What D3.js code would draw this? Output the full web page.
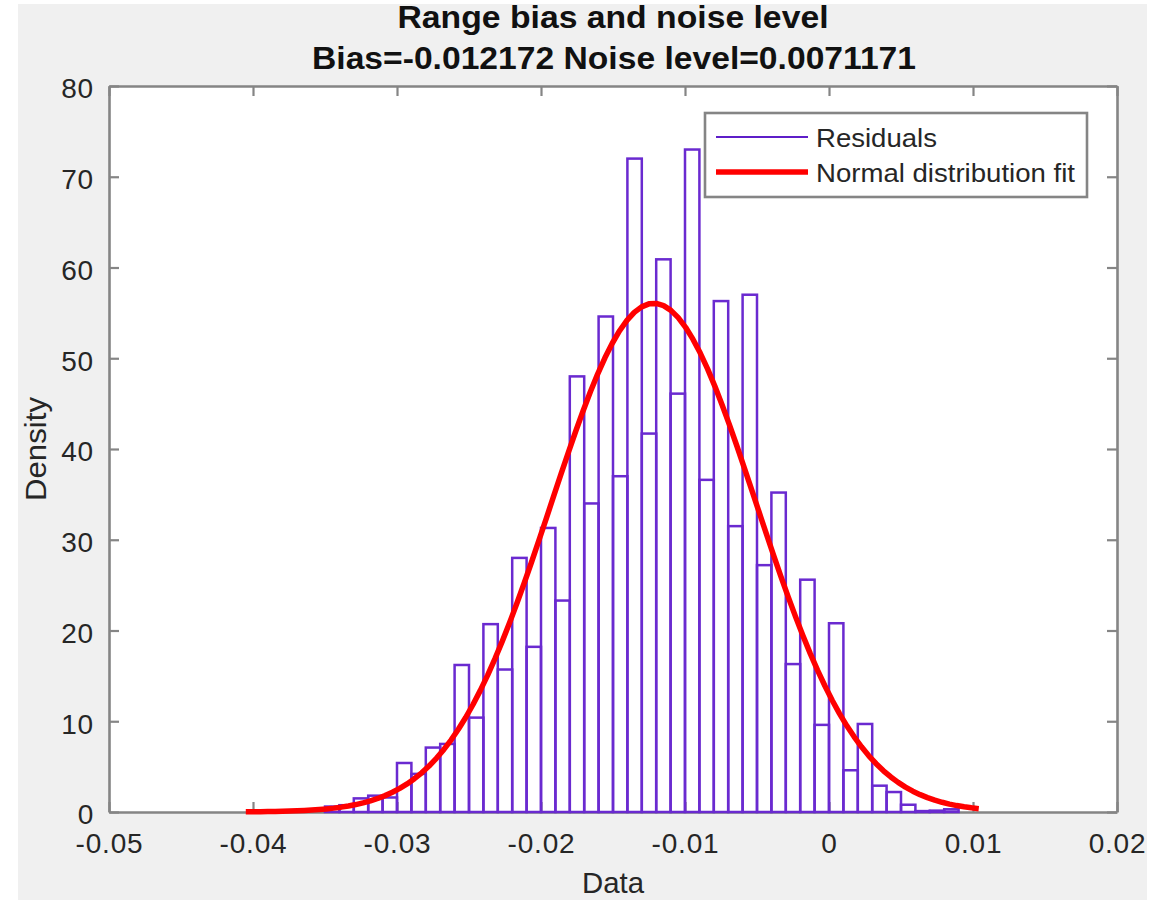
<!DOCTYPE html>
<html>
<head>
<meta charset="utf-8">
<script src="https://cdn.jsdelivr.net/npm/d3@7"></script>
<style>
  body { margin: 0; background: #ffffff; }
  svg { display: block; }
  text { font-family: "Liberation Sans", Arial, Helvetica, sans-serif; }
</style>
</head>
<body>
<svg id="chart" width="1170" height="900"></svg>
<script>
// ---- data ----
const titleLines = ["Range bias and noise level", "Bias=-0.012172 Noise level=0.0071171"];
const bias = -0.012172;          // fitted mean
const noiseLevel = 0.0071171;    // fitted standard deviation
const binStart = -0.035;         // left edge of the first histogram bin
const binWidth = 0.001;
const residualDensity = [
  0.6, 0.75, 1.5, 1.8, 1.6, 5.4, 4.2, 7.1, 7.5, 16.2,
  10.4, 20.7, 15.7, 28.0, 18.2, 31.3, 23.3, 48.0, 34.0, 54.6,
  37.0, 72.0, 41.7, 60.9, 46.1, 73.0, 36.6, 56.3, 31.5, 57.0,
  27.2, 35.2, 16.3, 25.6, 9.6, 20.8, 4.6, 9.7, 2.9, 2.2,
  0.8, 0.1, 0.15, 0.3
];
const fitRange = [-0.0405, 0.0104];
const xTicks = [-0.05, -0.04, -0.03, -0.02, -0.01, 0, 0.01, 0.02];
const xTickLabels = ["-0.05", "-0.04", "-0.03", "-0.02", "-0.01", "0", "0.01", "0.02"];
const yTicks = [0, 10, 20, 30, 40, 50, 60, 70, 80];
const yTickLabels = ["0", "10", "20", "30", "40", "50", "60", "70", "80"];
const legendLabels = ["Residuals", "Normal distribution fit"];
const axisLabels = { x: "Data", y: "Density" };

// ---- layout ----
const plot = { left: 109, right: 1117, top: 86, bottom: 812 };
const frameColor = "#858585";
const textColor = "#262626";
const barColor = "#6a2ad0";
const fitColor = "#ff0000";

const svg = d3.select("#chart");

// figure background
svg.append("rect").attr("x", 18).attr("y", 4).attr("width", 1129).attr("height", 896)
  .attr("fill", "#f0f0f0");

const x = d3.scaleLinear().domain([-0.05, 0.02]).range([plot.left, plot.right]);
const y = d3.scaleLinear().domain([0, 80]).range([plot.bottom, plot.top]);

// plot area
svg.append("rect")
  .attr("x", plot.left).attr("y", plot.top)
  .attr("width", plot.right - plot.left).attr("height", plot.bottom - plot.top)
  .attr("fill", "#ffffff");

// axes with inward ticks on all four sides
const tickLen = 10;
function styleAxis(g) {
  g.selectAll(".domain").attr("stroke", frameColor).attr("stroke-width", 2.6);
  g.selectAll(".tick line").attr("stroke", frameColor).attr("stroke-width", 2.2);
  g.selectAll(".tick text")
    .attr("fill", textColor)
    .style("font-size", "28px")
    .style("letter-spacing", "0.8px");
}

svg.append("g").attr("transform", `translate(0,${plot.bottom})`)
  .call(d3.axisBottom(x).tickValues(xTicks).tickSizeInner(-tickLen).tickSizeOuter(0)
    .tickPadding(21).tickFormat((d, i) => xTickLabels[i]))
  .call(styleAxis);

svg.append("g").attr("transform", `translate(0,${plot.top})`)
  .call(d3.axisTop(x).tickValues(xTicks).tickSizeInner(-tickLen).tickSizeOuter(0).tickFormat(""))
  .call(styleAxis);

svg.append("g").attr("transform", `translate(${plot.left},0)`)
  .call(d3.axisLeft(y).tickValues(yTicks).tickSizeInner(-tickLen).tickSizeOuter(0)
    .tickPadding(15).tickFormat((d, i) => yTickLabels[i]))
  .call(styleAxis)
  .call(g => g.selectAll(".tick text").attr("dy", "0.42em"));

svg.append("g").attr("transform", `translate(${plot.right},0)`)
  .call(d3.axisRight(y).tickValues(yTicks).tickSizeInner(-tickLen).tickSizeOuter(0).tickFormat(""))
  .call(styleAxis);

// histogram of residuals
const bins = residualDensity.map((v, i) => ({
  x0: binStart + i * binWidth,
  x1: binStart + (i + 1) * binWidth,
  value: v
}));

svg.append("g").selectAll("rect").data(bins).join("rect")
  .attr("x", d => x(d.x0))
  .attr("y", d => y(d.value))
  .attr("width", d => x(d.x1) - x(d.x0))
  .attr("height", d => y(0) - y(d.value))
  .attr("fill", "none")
  .attr("stroke", barColor)
  .attr("stroke-width", 2.5);

// normal density with the fitted bias and noise level
const nPts = 100;
const fitPts = d3.range(nPts + 1).map(i => {
  const v = fitRange[0] + i * (fitRange[1] - fitRange[0]) / nPts;
  const z = (v - bias) / noiseLevel;
  return [v, Math.exp(-0.5 * z * z) / (noiseLevel * Math.sqrt(2 * Math.PI))];
});

svg.append("path")
  .datum(fitPts)
  .attr("d", d3.line().x(d => x(d[0])).y(d => y(d[1])))
  .attr("fill", "none")
  .attr("stroke", fitColor)
  .attr("stroke-width", 5.5)
  .attr("stroke-linejoin", "round");

// titles
svg.append("text").attr("x", 613).attr("y", 28).attr("text-anchor", "middle")
  .attr("fill", "#111").style("font-size", "32px").style("font-weight", "bold")
  .attr("textLength", 431).attr("lengthAdjust", "spacingAndGlyphs")
  .text(titleLines[0]);
svg.append("text").attr("x", 614).attr("y", 69).attr("text-anchor", "middle")
  .attr("fill", "#111").style("font-size", "32px").style("font-weight", "bold")
  .attr("textLength", 604).attr("lengthAdjust", "spacingAndGlyphs")
  .text(titleLines[1]);

// axis labels
svg.append("text").attr("x", 613).attr("y", 893).attr("text-anchor", "middle")
  .attr("fill", textColor).style("font-size", "29px")
  .attr("textLength", 62).attr("lengthAdjust", "spacingAndGlyphs")
  .text(axisLabels.x);
svg.append("text").attr("transform", "translate(46,449) rotate(-90)").attr("text-anchor", "middle")
  .attr("fill", textColor).style("font-size", "30px")
  .attr("textLength", 104).attr("lengthAdjust", "spacingAndGlyphs")
  .text(axisLabels.y);

// legend
const legend = svg.append("g");
legend.append("rect").attr("x", 705).attr("y", 113).attr("width", 382).attr("height", 84)
  .attr("fill", "#ffffff").attr("stroke", frameColor).attr("stroke-width", 2.6);
legend.append("line").attr("x1", 716).attr("x2", 808).attr("y1", 137).attr("y2", 137)
  .attr("stroke", "#5e1ec8").attr("stroke-width", 1.8);
legend.append("line").attr("x1", 716).attr("x2", 808).attr("y1", 172).attr("y2", 172)
  .attr("stroke", fitColor).attr("stroke-width", 5.5);
legend.append("text").attr("x", 816).attr("y", 146.5).attr("fill", textColor)
  .style("font-size", "26px").attr("textLength", 121).attr("lengthAdjust", "spacingAndGlyphs")
  .text(legendLabels[0]);
legend.append("text").attr("x", 816).attr("y", 181.5).attr("fill", textColor)
  .style("font-size", "26px").attr("textLength", 259).attr("lengthAdjust", "spacingAndGlyphs")
  .text(legendLabels[1]);
</script>
</body>
</html>
